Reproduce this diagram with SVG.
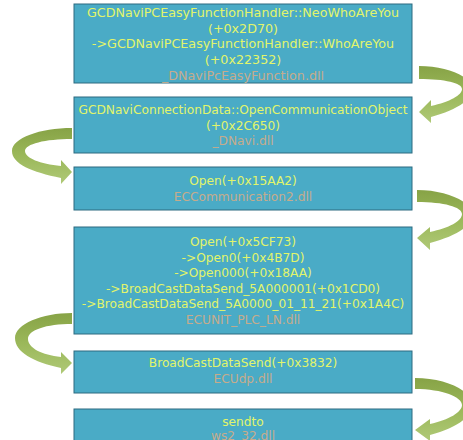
<svg xmlns="http://www.w3.org/2000/svg" width="463" height="440" viewBox="0 0 463 440">
<defs>
<style>
.box{fill:#4aabc6;stroke:#2d6b80;stroke-width:1}
.t{font-family:"DejaVu Sans",sans-serif;font-size:12.2px;fill:#e2f56a;text-anchor:middle}
.d{font-family:"DejaVu Sans",sans-serif;font-size:12.2px;fill:#c6ab8c;text-anchor:middle}
.big{font-size:12.7px}
.arr{fill:url(#g)}
</style>
<linearGradient id="g" x1="0" y1="0" x2="0" y2="1">
<stop offset="0" stop-color="#87a346"/>
<stop offset="0.5" stop-color="#9bb85a"/>
<stop offset="1" stop-color="#afc977"/>
</linearGradient>
</defs>
<rect width="463" height="440" fill="#ffffff"/>
<g id="connectors">
<path class="arr" d="M419,66 C448,66 472,77 472,89 C472,101 455,110 431,117 L431,123 L419,112 L431,100 L431,106 C450,102 462,95 462,89 C462,83 445,79 419,79 Z"/>
<path class="arr" d="M72,128 C40,128 12,138 12,151 C12,164 32,172 61,178 L61,184 L72,172 L61,160 L61,166 C40,164 25,158 25,151 C25,144 45,139 72,139 Z"/>
<path class="arr" d="M417,190 C447,190 472,202 472,214 C472,227 455,236 430,243 L430,250 L417,238 L430,227 L430,232 C449,228 462,221 462,214 C462,207 444,202 417,202 Z"/>
<path class="arr" d="M72,313 C42,313 15,324 15,338 C15,352 33,362 61,368 L61,374 L72,363 L61,352 L61,357 C42,355 28,348 28,339 C28,330 46,324 72,324 Z"/>
<path class="arr" d="M415,378 C446,378 472,391 472,404 C472,418 455,428 430,435 L430,441 L415,430 L430,419 L430,424 C449,420 462,412 462,405 C462,397 443,389 415,389 Z"/>
</g>
<g id="n1">
<rect class="box" x="74" y="4" width="338" height="79"/>
<text class="t big" x="243" y="17">GCDNaviPCEasyFunctionHandler::NeoWhoAreYou</text>
<text class="t big" x="243" y="32.5">(+0x2D70)</text>
<text class="t big" x="243" y="48">-&gt;GCDNaviPCEasyFunctionHandler::WhoAreYou</text>
<text class="t big" x="243" y="63.5">(+0x22352)</text>
<text class="d big" x="243" y="79.5">_DNaviPcEasyFunction.dll</text>
</g>
<g id="n2">
<rect class="box" x="74" y="97" width="338" height="56"/>
<text class="t" x="243" y="114">GCDNaviConnectionData::OpenCommunicationObject</text>
<text class="t" x="243" y="129.5">(+0x2C650)</text>
<text class="d" x="243" y="145">_DNavi.dll</text>
</g>
<g id="n3">
<rect class="box" x="74" y="167" width="338" height="43"/>
<text class="t" x="243" y="185">Open(+0x15AA2)</text>
<text class="d" x="243" y="201">ECCommunication2.dll</text>
</g>
<g id="n4">
<rect class="box" x="74" y="227" width="338" height="107"/>
<text class="t" x="243" y="246">Open(+0x5CF73)</text>
<text class="t" x="243" y="261.5">-&gt;Open0(+0x4B7D)</text>
<text class="t" x="243" y="277">-&gt;Open000(+0x18AA)</text>
<text class="t" x="243" y="292.5">-&gt;BroadCastDataSend_5A000001(+0x1CD0)</text>
<text class="t" x="243" y="308">-&gt;BroadCastDataSend_5A0000_01_11_21(+0x1A4C)</text>
<text class="d" x="243" y="323.5">ECUNIT_PLC_LN.dll</text>
</g>
<g id="n5">
<rect class="box" x="74" y="351" width="338" height="42"/>
<text class="t" x="243" y="367">BroadCastDataSend(+0x3832)</text>
<text class="d" x="243" y="383">ECUdp.dll</text>
</g>
<g id="n6">
<rect class="box" x="74" y="409" width="338" height="40"/>
<text class="t" x="243" y="425.5">sendto</text>
<text class="d" x="243" y="440">ws2_32.dll</text>
</g>
</svg>
